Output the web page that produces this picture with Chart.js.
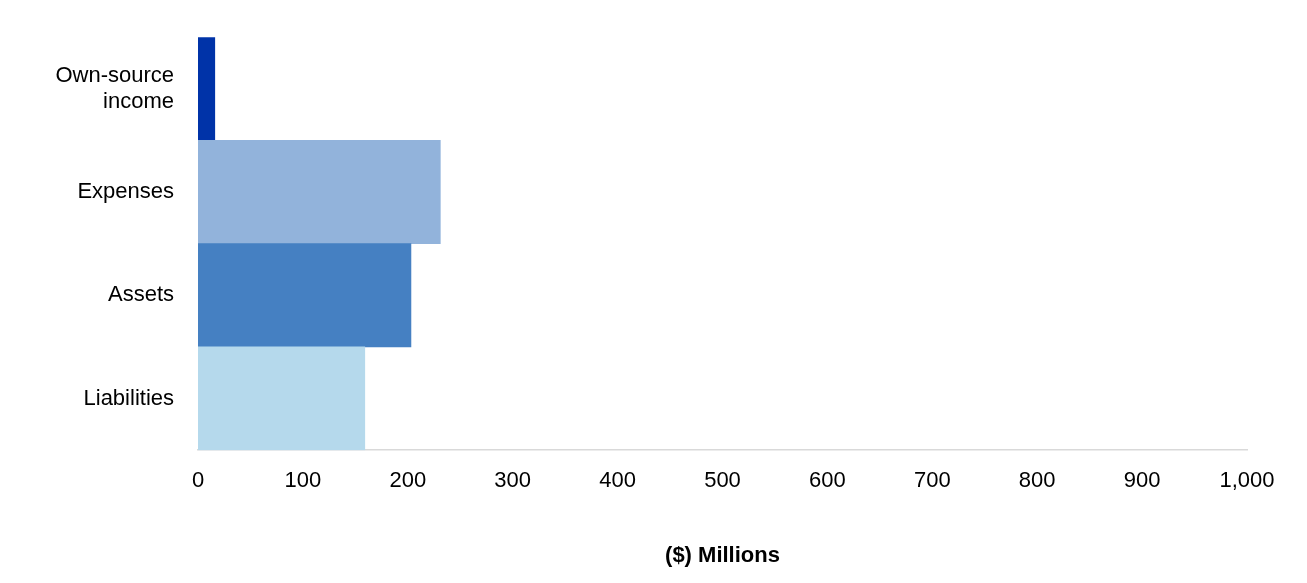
<!DOCTYPE html>
<html>
<head>
<script src="https://cdn.jsdelivr.net/npm/chart.js@4"></script>
<style>
body{margin:0;background:#fff;}
#wrap{width:1307px;height:583px;}
</style>
</head>
<body>
<div id="wrap"><canvas id="c"></canvas></div>
<script>
let categories=[["Own-source","income"],"Expenses","Assets","Liabilities"];
let values=[16,231,203,159];
let colors=["#0033a8","#92b3db","#4580c2","#b5d9ec"];
let tickValues=[0,100,200,300,400,500,600,700,800,900,1000];

new Chart(document.getElementById("c"),{
type:"bar",
data:{
labels:categories,
datasets:[{data:values,backgroundColor:colors,barPercentage:1,categoryPercentage:1}]
},
options:{
indexAxis:"y",
responsive:true,
maintainAspectRatio:false,
animation:false,
layout:{padding:{left:0,right:60,top:25,bottom:10}},
plugins:{legend:{display:false},tooltip:{enabled:false}},
scales:{
x:{
min:0,max:1000,
afterBuildTicks:function(a){a.ticks=tickValues.map(v=>({value:v}));},
grid:{display:false,drawTicks:false},
border:{color:"#d9d9d9",width:1.5},
ticks:{color:"#000",font:{family:"Liberation Sans, Arial",size:22},padding:18,
callback:v=>v.toLocaleString("en-US")},
title:{display:true,text:"($) Millions",color:"#000",font:{family:"Liberation Sans, Arial",size:22,weight:"bold"},padding:{top:30}}
},
y:{
grid:{display:false,drawTicks:false},
border:{display:false},
afterFit:function(a){a.width=198;},
ticks:{color:"#000",font:{family:"Liberation Sans, Arial",size:22},padding:24}
}
}
}
});
</script>
</body>
</html>
